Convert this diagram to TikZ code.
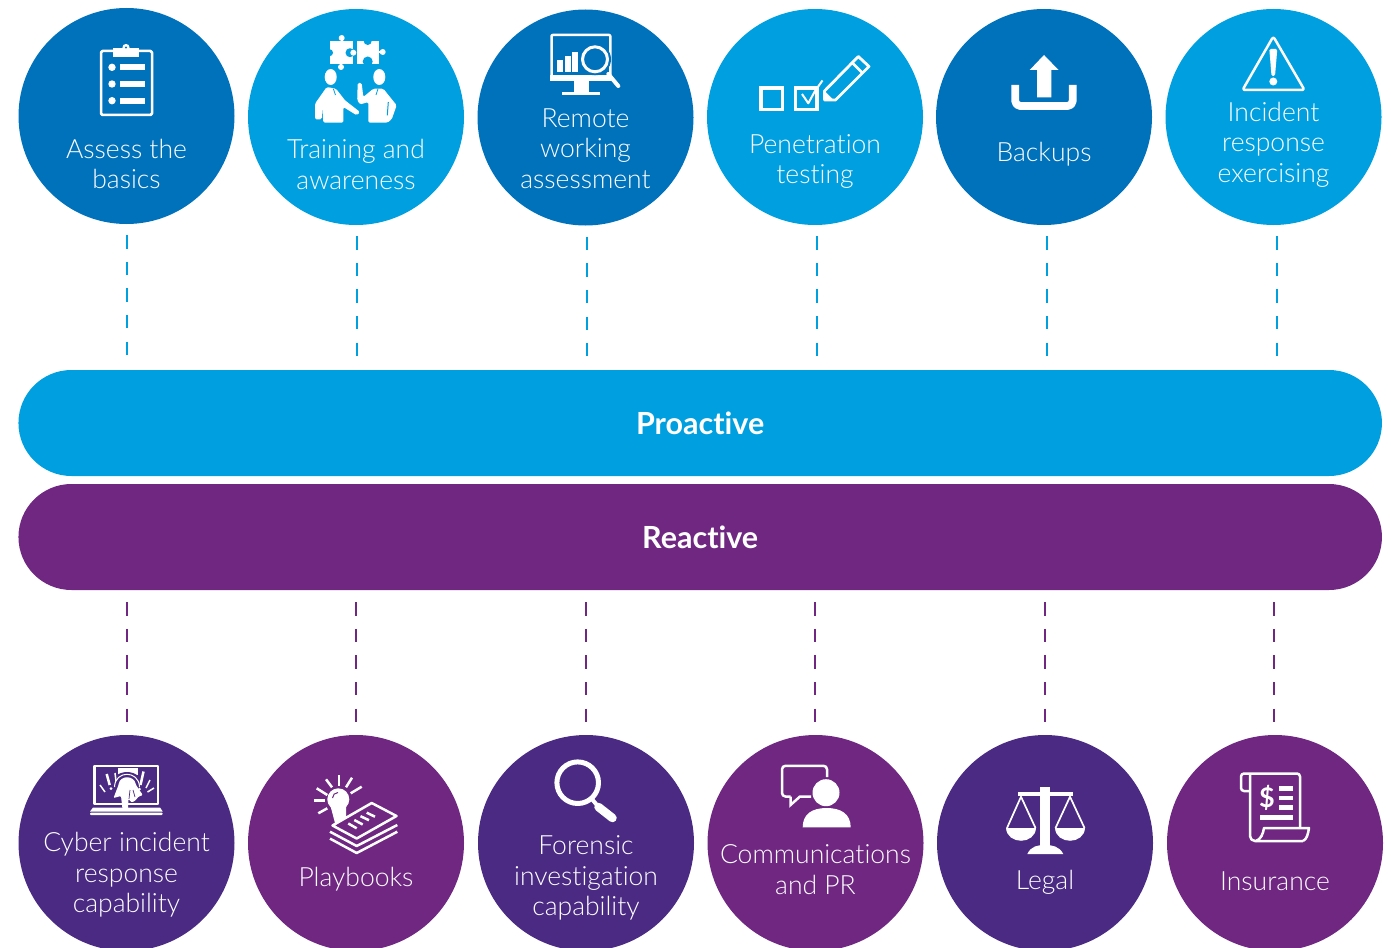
\documentclass[tikz,border=0pt]{standalone}
\usepackage{fontspec}
\setmainfont{Lato}[UprightFont=* Light, BoldFont=* Bold, Ligatures=NoCommon]
\definecolor{deepblue}{HTML}{0071BB}
\definecolor{skyblue}{HTML}{009FDF}
\definecolor{plum}{HTML}{6F2781}
\definecolor{indigo}{HTML}{4A2A82}
\tikzset{
  disc/.style={circle, minimum size=216pt, inner sep=0pt},
  band/.style={rectangle, rounded corners=53pt, minimum width=1363.5pt, minimum height=106pt, inner sep=0pt, text=white, font=\fontsize{30.5}{36}\selectfont\bfseries},
  caption/.style={align=center, text=white, inner sep=0pt, font=\fontsize{26.5}{30.5}\selectfont},
  bluelink/.style={draw=skyblue, line width=2pt, dash pattern=on 13.3pt off 13.3pt},
  plumlink/.style={draw=plum, line width=2pt, dash pattern=on 13.3pt off 13.3pt},
  iconfill/.style={fill=white, draw=none},
  iconline/.style={draw=white, line width=2.5pt, line join=round}
}
\begin{document}
\begin{tikzpicture}[x=1pt, y=-1pt]
  \useasboundingbox (0,0) rectangle (1391,947);

  % Bands in the middle
  \node[band, fill=skyblue] (pro) at (700.2,423) {Proactive};
  \node[band, fill=plum] (rea) at (700.2,537) {Reactive};

  % Top row of discs
  \node[disc, fill=deepblue] (c1) at (126.5,116) {};
  \node[disc, fill=skyblue] (c2) at (356,117) {};
  \node[disc, fill=deepblue] (c3) at (585.5,117.5) {};
  \node[disc, fill=skyblue] (c4) at (815,117) {};
  \node[disc, fill=deepblue] (c5) at (1044,117) {};
  \node[disc, fill=skyblue] (c6) at (1273.5,117) {};

  % Bottom row of discs
  \node[disc, fill=indigo] (r1) at (126.5,843) {};
  \node[disc, fill=plum] (r2) at (356,843) {};
  \node[disc, fill=indigo] (r3) at (586,843) {};
  \node[disc, fill=plum] (r4) at (815.5,843) {};
  \node[disc, fill=indigo] (r5) at (1045,843) {};
  \node[disc, fill=plum] (r6) at (1275,843) {};

  % Captions
  \node[caption] (t1) at (126.5,164) {Assess the\\basics};
  \node[caption] (t2) at (356,164.5) {Training and\\awareness};
  \node[caption] (t3) at (585.5,148.5) {Remote\\working\\assessment};
  \node[caption] (t4) at (815,161.5) {Penetration\\testing};
  \node[caption] (t5) at (1044,154) {Backups};
  \node[caption] (t6) at (1273.5,144.5) {Incident\\response\\exercising};
  \node[caption] (b1) at (126.5,875) {Cyber incident\\response\\capability};
  \node[caption] (b2) at (356,879) {Playbooks};
  \node[caption] (b3) at (586,878) {Forensic\\investigation\\capability};
  \node[caption] (b4) at (815.5,869.5) {Communications\\and PR};
  \node[caption] (b5) at (1045,882.5) {Legal};
  \node[caption] (b6) at (1275,881) {Insurance};

  % Columns of the dashed links
  \coordinate (d1) at (127,300);
  \coordinate (d2) at (357,300);
  \coordinate (d3) at (587,300);
  \coordinate (d4) at (817,300);
  \coordinate (d5) at (1047,300);
  \coordinate (d6) at (1277,300);
  \coordinate (e1) at (127,660);
  \coordinate (e2) at (356,660);
  \coordinate (e3) at (586,660);
  \coordinate (e4) at (815,660);
  \coordinate (e5) at (1045,660);
  \coordinate (e6) at (1274,660);

  % Dashed links
  \draw[bluelink, shorten <=11pt, shorten >=13pt] (c1.south -| d1) -- (pro.north -| d1);
  \draw[bluelink, shorten <=11pt, shorten >=13pt] (c2.south -| d2) -- (pro.north -| d2);
  \draw[bluelink, shorten <=11pt, shorten >=13pt] (c3.south -| d3) -- (pro.north -| d3);
  \draw[bluelink, shorten <=11pt, shorten >=13pt] (c4.south -| d4) -- (pro.north -| d4);
  \draw[bluelink, shorten <=11pt, shorten >=13pt] (c5.south -| d5) -- (pro.north -| d5);
  \draw[bluelink, shorten <=11pt, shorten >=13pt] (c6.south -| d6) -- (pro.north -| d6);
  \draw[plumlink, shorten <=12pt, shorten >=13pt] (rea.south -| e1) -- (r1.north -| e1);
  \draw[plumlink, shorten <=12pt, shorten >=13pt] (rea.south -| e2) -- (r2.north -| e2);
  \draw[plumlink, shorten <=12pt, shorten >=13pt] (rea.south -| e3) -- (r3.north -| e3);
  \draw[plumlink, shorten <=12pt, shorten >=13pt] (rea.south -| e4) -- (r4.north -| e4);
  \draw[plumlink, shorten <=12pt, shorten >=13pt] (rea.south -| e5) -- (r5.north -| e5);
  \draw[plumlink, shorten <=12pt, shorten >=13pt] (rea.south -| e6) -- (r6.north -| e6);

  % Clipboard
  \draw[iconline, rounded corners=1.5pt] (101,51) rectangle (152,115);
  \fill[iconfill] (113.3,48.5) rectangle (139,57);
  \fill[iconfill] (126,47.5) circle (3.6);
  \fill[deepblue] (126,47.5) circle (1.2);
  \fill[iconfill] (112,67.3) circle (3.7);
  \fill[iconfill] (112,84) circle (3.7);
  \fill[iconfill] (112,100.7) circle (3.7);
  \fill[iconfill] (120,64) rectangle (145,70);
  \fill[iconfill] (120,81) rectangle (145,87);
  \fill[iconfill] (120,98) rectangle (145,104);

  % Puzzle and two people
  \fill[iconfill] (330,41.3) rectangle (353.3,63.7);
  \fill[iconfill] (341.7,38) circle (3);
  \fill[iconfill] (341,67) circle (3);
  \fill[iconfill] (340.7,36) rectangle (342.7,42);
  \fill[iconfill] (340,62) rectangle (342,66);
  \fill[skyblue] (350,52.7) circle (4.5);
  \fill[skyblue] (329.5,52.7) circle (3.5);
  \fill[iconfill] (356.7,41.3) rectangle (379.3,64.3);
  \fill[iconfill] (382.7,52) circle (3);
  \fill[iconfill] (378,51) rectangle (382,53);
  \fill[iconfill] (353.3,52.7) circle (3);
  \fill[skyblue] (367.7,41) circle (4);
  \fill[skyblue] (367.7,61.5) circle (5);
  \fill[iconfill] (330.7,77) ellipse (6 and 8);
  \fill[iconfill] (379.3,77) ellipse (6 and 8);
  \fill[iconfill, rounded corners=1.5pt] (326.7,87) -- (315,103.7) -- (315,119.3) -- (321.7,119.3) -- (322.3,107) -- (323.3,122.7) -- (343.3,122.7) -- (343.3,107) -- (356.7,115.3) -- (360,112) -- (345,100.3) -- (336,88.7) -- cycle;
  \fill[iconfill, rounded corners=1.5pt] (357.7,83) -- (357.2,100) -- (360,104.5) -- (368.3,102) -- (368.3,122.7) -- (387.3,122.7) -- (391.7,119.3) -- (396.7,105.3) -- (383.3,88.7) -- (373.3,88.7) -- (363.3,97) -- (361.7,83) -- cycle;
  \draw[skyblue, line width=1pt] (388.3,102) -- (387.3,115.3);
  \draw[skyblue, line width=0.8pt] (333.3,88.7) -- (335.5,95);
  \draw[skyblue, line width=0.8pt] (378,88.7) -- (376,95);

  % Monitor with magnifier
  \draw[iconline, rounded corners=1pt] (551.5,35) rectangle (610.3,79);
  \fill[iconfill] (550,75) rectangle (611.7,81);
  \fill[iconfill] (574.3,81) rectangle (589.3,92);
  \fill[iconfill] (562.3,91.7) rectangle (600,95);
  \fill[iconfill] (557.3,60) rectangle (563.3,72);
  \fill[iconfill] (564.7,55.7) rectangle (570.7,72);
  \fill[iconfill] (572,51.7) rectangle (578,72);
  \fill[deepblue] (595,59.3) circle (16);
  \draw[iconline, line width=3pt] (595,59.3) circle (12.5);
  \draw[white, line width=4pt, line cap=round] (608.3,74) -- (618.3,86);

  % Boxes and pencil
  \draw[iconline, line width=3.3pt, line join=miter] (761,88) rectangle (782.3,109.5);
  \draw[iconline, line width=3.3pt, line join=miter] (795.7,88) rectangle (817,109.5);
  \draw[iconline, line width=2pt] (802,94) -- (808.3,103.3) -- (815,91) -- (822.5,80.5);
  \fill[skyblue] (824,88) -- (859,53) -- (872,66) -- (837,101.5) -- (822,101.5) -- cycle;
  \draw[iconline, line width=2.8pt] (824.5,91) -- (858.3,56.5) -- (869,66.5) -- (835.5,100) -- (824.5,100) -- cycle;
  \fill[iconfill] (824,90.5) -- (824,100.5) -- (834,100.5) -- cycle;
  \draw[white, line width=2.5pt] (852,62.5) -- (862.5,73);

  % Upload tray
  \draw[iconline, line width=7.8pt, line join=round, rounded corners=5pt] (1015.2,85) -- (1015.2,106) -- (1072.7,106) -- (1072.7,85);
  \fill[iconfill] (1044,55) -- (1058.5,70) -- (1051.3,70) -- (1051.3,97.3) -- (1037,97.3) -- (1037,70) -- (1029.7,70) -- cycle;

  % Warning triangle
  \draw[iconline, rounded corners=2.5pt] (1273.3,36.5) -- (1242.5,90) -- (1304.5,90) -- cycle;
  \fill[iconfill, rounded corners=1.5pt] (1269.3,49) -- (1277.3,49) -- (1275,76) -- (1271.5,76) -- cycle;
  \fill[iconfill] (1273.3,81.5) circle (4);

  % Laptop with hand
  \draw[iconline] (94.5,766) rectangle (158,804);
  \fill[iconfill] (117.7,768) rectangle (137.7,775);
  \fill[iconfill] (93,807.5) -- (160,807.5) -- (162.7,811.5) -- (90,811.5) -- cycle;
  \fill[iconfill, rounded corners=1pt] (90,812.5) rectangle (162.7,815);
  \fill[indigo] (127,786) ellipse (16 and 14);
  \draw[white, line width=1pt] (114.5,787) .. controls (115,770) and (139,770) .. (139.5,787);
  \fill[iconfill, rounded corners=1pt] (113.5,798) -- (118.5,785) .. controls (120,775) and (134,775) .. (136,785) -- (142.8,795) -- (138,797) -- (136,800) -- (132,802.5) -- (128.5,799) -- (128,809) -- (122.5,809) -- (121,796) -- cycle;
  \draw[indigo, line width=0.7pt] (129,799) -- (130,790);
  \draw[indigo, line width=0.7pt] (135,797) -- (133,790);
  \draw[white, line width=2.5pt] (106.7,774) -- (109.7,785);
  \draw[white, line width=1.5pt] (115,773) -- (116,781);
  \draw[white, line width=1.5pt] (100,785) -- (105,792);
  \fill[iconfill] (111,788.5) circle (1.5);
  \draw[white, line width=2.5pt] (143.5,771.5) -- (140.5,785);
  \draw[white, line width=1.5pt] (150,780) -- (146,788);
  \draw[white, line width=1.5pt] (154,788) -- (147.5,792);
  \fill[iconfill] (139.5,789) circle (1.5);

  % Light bulb and stack of sheets
  \draw[white, line width=2.5pt] (339,775) -- (339,786);
  \draw[white, line width=2.5pt] (326,779.3) -- (332,787.3);
  \draw[white, line width=2.5pt] (352,777.7) -- (346,787.3);
  \draw[white, line width=2.5pt] (316.7,788.3) -- (327.3,795);
  \draw[white, line width=2.5pt] (361.7,786.7) -- (350.7,793.3);
  \draw[white, line width=2.5pt] (314,800.7) -- (325,800.7);
  \draw[white, line width=2.5pt] (318.3,813.3) -- (327.3,808.3);
  \fill[iconfill] (338.3,799.3) circle (11);
  \fill[iconfill] (330.5,806) -- (346,806) -- (346,820) -- (335,823) -- cycle;
  \draw[plum, line width=1pt] (332.5,798) arc (180:270:5.5);
  \draw[iconline, fill=plum, line width=2.5pt] (371.7,803) -- (396.5,816) -- (356.7,838.5) -- (332.5,825.5) -- cycle;
  \draw[white, line width=2.5pt] (366.7,812.7) -- (375,816.7);
  \draw[white, line width=2.5pt] (360.5,816.2) -- (369,820.2);
  \draw[white, line width=2.5pt] (354.3,820) -- (362.7,824.5);
  \draw[white, line width=2.5pt] (348.3,823.5) -- (356.7,828.3);
  \draw[iconline] (330,831.7) -- (356.7,846) -- (397.3,825);
  \draw[iconline] (330,838.6) -- (356.7,853) -- (397.3,831.7);

  % Magnifier
  \draw[iconline, line width=5pt] (577.7,782.7) circle (20.8);
  \draw[white, line width=8.5pt, line cap=round] (598.5,807) -- (612.5,818);
  \draw[white, line width=4pt] (591,798) -- (599,807.5);

  % Speech bubble and person
  \draw[iconline, rounded corners=3.5pt] (827,777) -- (827,765.8) -- (782,765.8) -- (782,796.5) -- (790.5,796.5);
  \draw[iconline, line join=miter] (790.5,796.5) -- (790.5,805) -- (800,796.5) -- (811,796.5);
  \fill[iconfill] (826,792.7) circle (13.5);
  \fill[iconfill] (802.7,827.3) .. controls (802.7,814) and (812,808) .. (826.7,808) .. controls (841,808) and (850.7,814) .. (850.7,827.3) -- cycle;

  % Scales
  \fill[iconfill] (1040,786.7) rectangle (1050,848);
  \fill[iconfill] (1017.7,791.7) rectangle (1072.7,796);
  \fill[iconfill] (1027.3,854) .. controls (1031,846) and (1038,845) .. (1045,845) .. controls (1052,845) and (1059,846) .. (1063.3,854) -- cycle;
  \draw[white, line width=1.7pt, line join=round] (1007,828) -- (1021,796.7) -- (1035.5,828);
  \draw[white, line width=1.7pt, line join=round] (1055.5,828) -- (1070,796.7) -- (1084.5,828);
  \fill[iconfill] (1006,828) .. controls (1007,845) and (1035,845) .. (1036,828) -- cycle;
  \fill[iconfill] (1055,828) .. controls (1056,845) and (1084,845) .. (1085,828) -- cycle;

  % Policy scroll
  \draw[iconline, rounded corners=3pt] (1250,791) -- (1241,791) -- (1241,773.5) -- (1300,773.5) -- (1300,827);
  \draw[iconline, rounded corners=5pt] (1250,775) -- (1250,841) -- (1303,841);
  \draw[iconline] (1303,841) .. controls (1307,839) and (1308,834) .. (1309,828) -- (1264,828) .. controls (1263,834) and (1261,839) .. (1256,841);
  \node[text=white, inner sep=0pt, font=\fontsize{27}{27}\selectfont\bfseries] (dollar) at (1267,797.5) {\$};
  \fill[iconfill] (1279.3,786) rectangle (1292.7,790.7);
  \fill[iconfill] (1279.3,795.5) rectangle (1292.7,800);
  \fill[iconfill] (1279.3,805) rectangle (1292.7,810);
  \fill[iconfill] (1260,815) rectangle (1292.7,820);
\end{tikzpicture}
\end{document}
